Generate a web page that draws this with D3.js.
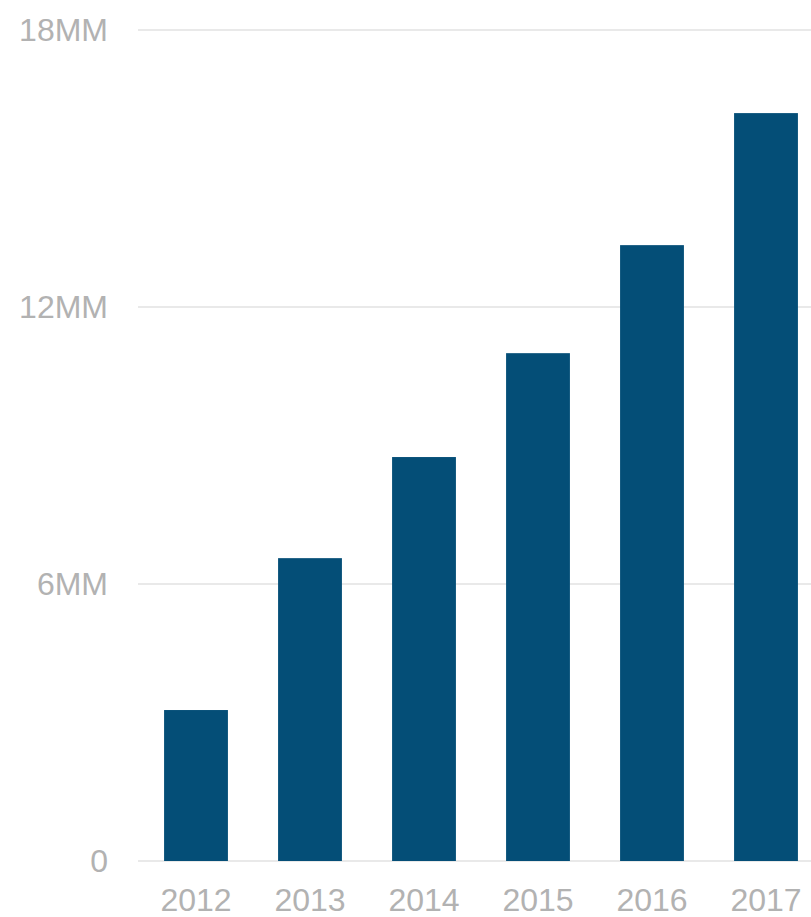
<!DOCTYPE html>
<html><head><meta charset="utf-8">
<script src="https://cdn.jsdelivr.net/npm/d3@7"></script>
<style>html,body{margin:0;padding:0;background:#fff;overflow:hidden;}svg{display:block;}</style>
</head><body>
<script>
const years = ["2012","2013","2014","2015","2016","2017"];
const values = [3.27, 6.56, 8.75, 11.0, 13.34, 16.2];
const yTicks = [0, 6, 12, 18];
const yTickLabels = ["0", "6MM", "12MM", "18MM"];

const W = 811, H = 917;
const svg = d3.select("body").append("svg").attr("width", W).attr("height", H);

const y = d3.scaleLinear().domain([0, 18]).range([861, 30]);
const x = d3.scaleBand().domain(years).range([139, 823]).paddingInner(0.44).paddingOuter(0.22);

const font = "'Liberation Sans', Arial, Helvetica, sans-serif";
const gray = "#b2b2b2";

// gridlines
svg.append("g").selectAll("line").data(yTicks).join("line")
  .attr("x1", 138).attr("x2", W)
  .attr("y1", d => y(d)).attr("y2", d => y(d))
  .attr("stroke", "#e2e2e2").attr("stroke-width", 1.5);

// y labels
svg.append("g").selectAll("text").data(yTicks).join("text")
  .attr("x", 108).attr("y", d => y(d) + 11)
  .attr("text-anchor", "end")
  .attr("font-family", font).attr("font-size", 32)
  .attr("fill", gray)
  .text((d, i) => yTickLabels[i]);

// bars
svg.append("g").selectAll("rect").data(values).join("rect")
  .attr("x", (d, i) => x(years[i]))
  .attr("width", x.bandwidth())
  .attr("y", d => y(d))
  .attr("height", d => y(0) - y(d))
  .attr("fill", "#044e77");

// x labels
svg.append("g").selectAll("text").data(years).join("text")
  .attr("x", d => x(d) + x.bandwidth() / 2)
  .attr("y", 911)
  .attr("text-anchor", "middle")
  .attr("font-family", font).attr("font-size", 32)
  .attr("fill", gray)
  .text(d => d);
</script>
</body></html>
